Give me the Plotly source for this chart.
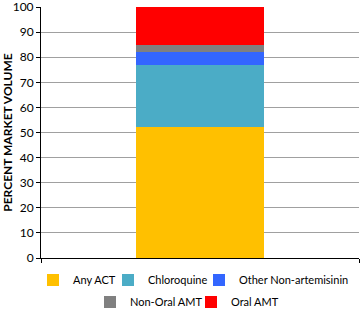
import plotly.graph_objects as go

categories = [""]
series_names = ["Any ACT", "Chloroquine", "Other Non-artemisinin", "Non-Oral AMT", "Oral AMT"]
series_values = [[52], [25], [5], [3], [15]]
colors = ["#FFC000", "#4BACC6", "#3366FF", "#808080", "#FF0000"]
y_ticks = [0, 10, 20, 30, 40, 50, 60, 70, 80, 90, 100]

W, H = 360, 310
FONT = "Lato, Open Sans, sans-serif"
# legend entries: (left x of colour square in px, row centre y in px)
legend_pos = [(47, 280), (122, 280), (213, 280), (104, 302), (205, 302)]
legend_ids = ["legend", "legend2", "legend3", "legend4", "legend5"]

fig = go.Figure()
for name, vals, c, lid in zip(series_names, series_values, colors, legend_ids):
    fig.add_trace(go.Bar(x=categories, y=vals, name=name, marker=dict(color=c, line=dict(width=0)),
                         width=0.4, legend=lid))

legend_layout = {}
for lid, (sx, ty) in zip(legend_ids, legend_pos):
    legend_layout[lid] = dict(orientation="h", xref="container", yref="container",
                              x=(sx - 14) / W, xanchor="left",
                              y=1 - ty / H, yanchor="middle",
                              font=dict(size=11, family=FONT), itemwidth=30,
                              bgcolor="rgba(0,0,0,0)")

fig.update_layout(
    barmode="stack",
    width=W, height=H,
    margin=dict(l=41, r=1, t=7, b=52, autoexpand=False),
    paper_bgcolor="white", plot_bgcolor="white",
    font=dict(family=FONT, size=11.5, color="black"),
    showlegend=True,
    bargap=0,
    **legend_layout,
)
fig.update_yaxes(range=[0, 100], tickvals=y_ticks, showgrid=True, gridcolor="#A0A0A0", gridwidth=1,
                 showline=True, linecolor="black", linewidth=1, ticks="outside", ticklen=4,
                 tickcolor="black", zeroline=False, automargin=False, ticklabeloverflow="allow",
                 tickfont=dict(size=12),
                 title=dict(text="<b>PERCENT MARKET VOLUME</b>", font=dict(size=12), standoff=6))
fig.update_xaxes(showline=True, linecolor="black", linewidth=1, showticklabels=False,
                 ticks="outside", tickson="boundaries", ticklen=4, tickcolor="black",
                 zeroline=False, automargin=False)

fig.write_html("out.html", config={"displayModeBar": False},
               post_script="document.body.style.margin='0';")
